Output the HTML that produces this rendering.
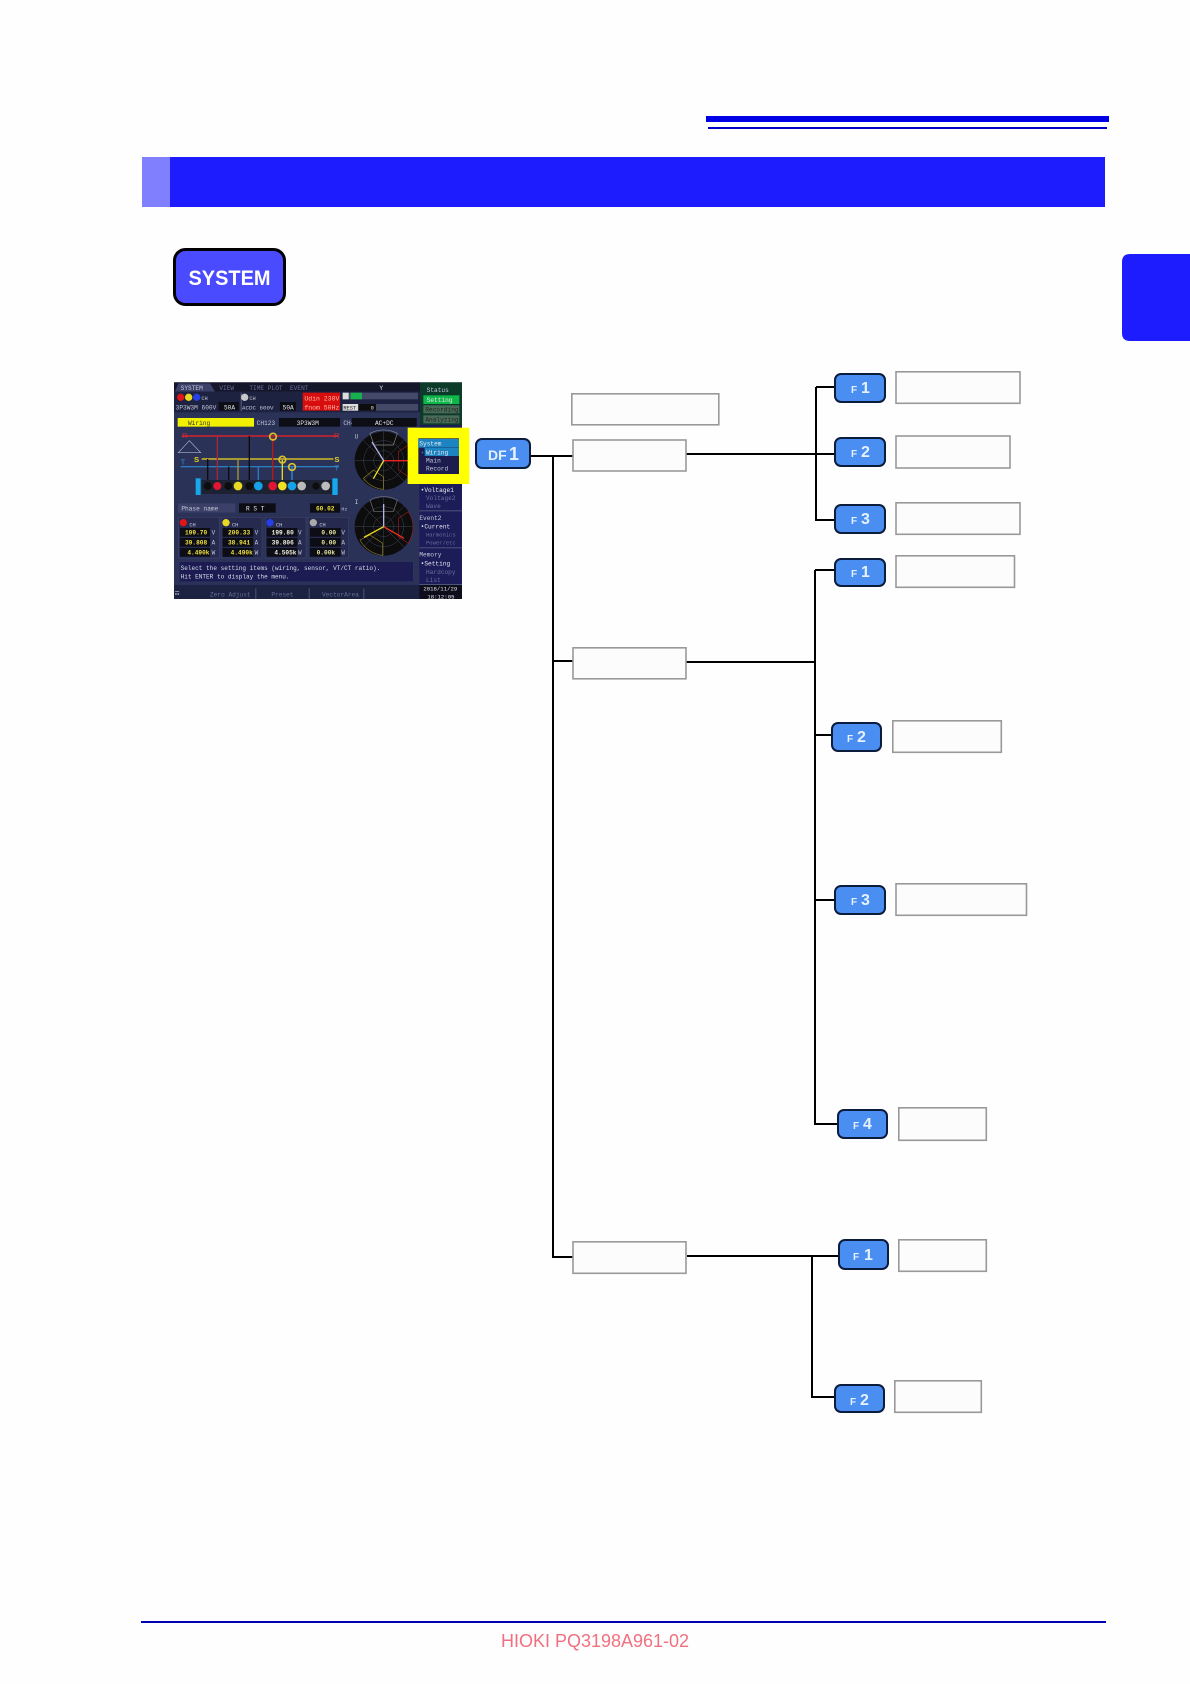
<!DOCTYPE html>
<html><head><meta charset="utf-8"><title>System</title>
<style>html,body{margin:0;padding:0;background:#fefefe}svg{display:block}
.b{fill:#4a8ef2;stroke:#0c1c3c;stroke-width:2}
.l{fill:#fcfcfc;stroke:#999;stroke-width:1.6}
.c{stroke:#000;stroke-width:2;fill:none}
.f{font:bold 10px "Liberation Sans",sans-serif;fill:#e6f1ff}
.n{font:bold 16px "Liberation Sans",sans-serif;fill:#e6f1ff}
.m{font-family:"Liberation Mono",monospace;fill:#c4c8d8}
.d{fill:#6a6e9a}.w{fill:#e8e8ee}.y{fill:#f0e040;font-weight:bold}
</style></head><body>
<svg width="1190" height="1684" viewBox="0 0 1190 1684" xmlns="http://www.w3.org/2000/svg">
<defs><filter id="bl" x="0" y="0" width="100%" height="100%"><feGaussianBlur stdDeviation="1.1"/></filter></defs>
<rect width="1190" height="1684" fill="#fefefe"/>
<rect x="706" y="116" width="403" height="6" fill="#0000e6"/>
<rect x="708" y="127" width="399" height="2" fill="#0000c8"/>
<rect x="142" y="157" width="28" height="50" fill="#8080ff"/>
<rect x="170" y="157" width="935" height="50" fill="#1c1cff"/>
<path d="M1190 254H1130Q1122 254 1122 262V333Q1122 341 1130 341H1190Z" fill="#1c1cff"/>
<rect x="174.500" y="249.500" width="110" height="55" rx="11" fill="#4a4aff" stroke="#000" stroke-width="3"/>
<text x="229.500" y="285" text-anchor="middle" font-family="Liberation Sans, sans-serif" font-weight="bold" font-size="21" fill="#fff" textLength="82" lengthAdjust="spacingAndGlyphs">SYSTEM</text>

<!-- screen -->
<g transform="translate(160,370) scale(.33333)" font-size="18.500">
<g filter="url(#bl)">
<rect x="42" y="37" width="864" height="650" fill="#2b3058"/>
<rect x="42" y="37" width="738" height="28" fill="#14162c"/>
<path d="M45 65L55 40H150L165 65Z" fill="#3a3f68"/>
<text class="m" x="62" y="60">SYSTEM</text>
<text class="m d" x="178" y="60">VIEW</text><text class="m d" x="268" y="60">TIME PLOT</text><text class="m d" x="390" y="60">EVENT</text>
<text class="m w" x="658" y="60">Y</text>
<!-- channel header -->
<rect x="42" y="65" width="738" height="62" fill="#1d2040"/>
<circle cx="62" cy="82" r="11" fill="#e01818"/><circle cx="86" cy="82" r="11" fill="#e8d820"/><circle cx="110" cy="82" r="11" fill="#2840e8"/>
<text class="m" x="124" y="90" font-size="16">CH</text>
<text class="m" x="47" y="118">3P3W3M 600V</text><rect x="176" y="96" width="60" height="26" fill="#0a0a14"/><text class="m w" x="192" y="118">50A</text>
<rect x="242" y="68" width="3" height="56" fill="#5a6080"/>
<circle cx="254" cy="82" r="11" fill="#c8c8c8"/><text class="m" x="268" y="90" font-size="16">CH</text>
<text class="m" x="246" y="118" font-size="17.500">ACDC 600V</text><rect x="360" y="96" width="48" height="26" fill="#0a0a14"/><text class="m w" x="368" y="118">50A</text>
<rect x="428" y="68" width="112" height="54" fill="#d81010"/>
<text class="m" x="433" y="91" font-size="19.500" style="fill:#ffb8a8">Udin 230V</text><text class="m" x="433" y="118" font-size="19.500" style="fill:#ffb8a8">fnom 50Hz</text>
<rect x="548" y="68" width="226" height="20" fill="#444868"/><rect x="548" y="68" width="18" height="20" fill="#ddd"/><rect x="572" y="68" width="34" height="20" fill="#18b050"/>
<rect x="548" y="102" width="226" height="20" fill="#444868"/><rect x="548" y="102" width="46" height="20" fill="#ddd"/><rect x="596" y="102" width="52" height="20" fill="#111"/>
<text class="m" x="550" y="119" font-size="16" style="fill:#222">REST</text><text class="m w" x="632" y="119" font-size="16">0</text>
<!-- right top -->
<rect x="780" y="37" width="126" height="128" fill="#0e3a2c"/>
<text class="m" x="800" y="66">Status</text>
<rect x="790" y="76" width="108" height="26" fill="#10b848"/><text class="m w" x="800" y="96">Setting</text>
<rect x="790" y="106" width="108" height="24" fill="#4a6a58"/><text class="m" x="796" y="125" style="fill:#20281f">Recording</text>
<rect x="790" y="136" width="108" height="24" fill="#4a6a58"/><text class="m" x="796" y="155" style="fill:#20281f">Analyzing</text>
<!-- right col -->
<rect x="778" y="165" width="128" height="480" fill="#1c1c58"/>
<rect x="778" y="421" width="128" height="3" fill="#50557a"/><rect x="778" y="532" width="128" height="3" fill="#50557a"/><rect x="778" y="642" width="128" height="3" fill="#50557a"/>
<text class="m w" x="782" y="366">&#8226;Voltage1</text><text class="m d" x="798" y="390">Voltage2</text><text class="m d" x="798" y="414">Wave</text>
<text class="m" x="778" y="450">Event2</text><text class="m w" x="782" y="476">&#8226;Current</text><text class="m d" x="798" y="500" font-size="16.500">Harmonics</text><text class="m d" x="798" y="524" font-size="16.500">Power/etc</text>
<text class="m" x="778" y="560">Memory</text><text class="m w" x="782" y="587">&#8226;Setting</text><text class="m d" x="798" y="612">Hardcopy</text><text class="m d" x="798" y="636">List</text>
<!-- row -->
<rect x="53" y="144" width="229" height="26" fill="#f0f000"/><text class="m" x="84" y="165" style="fill:#333">Wiring</text>
<text class="m" x="290" y="165">CH123</text><rect x="357" y="144" width="183" height="26" fill="#0c0c14"/><text class="m w" x="410" y="165">3P3W3M</text>
<text class="m" x="550" y="165">CH4</text><rect x="575" y="144" width="195" height="26" fill="#0c0c14"/><text class="m w" x="645" y="165">AC+DC</text>
<!-- wiring -->
<rect x="65" y="195" width="470" height="6" fill="#a82838"/><rect x="125" y="264" width="395" height="6" fill="#a89a30"/><rect x="62" y="288" width="475" height="4" fill="#2c7ec0"/>
<path d="M88 212L55 248H122Z" fill="none" stroke="#b0b4c8" stroke-width="2"/>
<text x="66" y="204" font-family="Liberation Sans" font-size="23" fill="#d03030">R</text><text x="522" y="204" font-family="Liberation Sans" font-size="23" fill="#d03030">R</text>
<text x="102" y="276" font-family="Liberation Sans" font-size="23" font-weight="bold" fill="#e8d820">S</text><text x="523" y="276" font-family="Liberation Sans" font-size="23" font-weight="bold" fill="#e8d820">S</text>
<text x="62" y="284" font-family="Liberation Sans" font-size="23" fill="#3090d8">T</text><text x="523" y="302" font-family="Liberation Sans" font-size="23" fill="#3090d8">T</text>
<g stroke-width="4" fill="none">
<path d="M172 198V335" stroke="#a82838"/><path d="M234 267V335" stroke="#a89a30"/><path d="M295 290V335" stroke="#2c7ec0"/>
<path d="M338 200V335" stroke="#c01818"/><path d="M367 270V335" stroke="#e8d820"/><path d="M396 292V335" stroke="#2c90d8"/>
<path d="M143 267V335M206 290V335M268 198V335" stroke="#0a0a0a"/>
</g>
<circle cx="339" cy="200" r="10" fill="none" stroke="#d8c030" stroke-width="5"/><circle cx="367" cy="269" r="10" fill="none" stroke="#d8c030" stroke-width="5"/><circle cx="396" cy="291" r="10" fill="none" stroke="#d8c030" stroke-width="5"/>
<rect x="125" y="330" width="390" height="42" fill="#1e2030"/>
<rect x="107" y="325" width="15" height="50" fill="#18a8e8"/><rect x="517" y="325" width="16" height="50" fill="#18a8e8"/>
<circle cx="143" cy="348" r="12" fill="#111"/><circle cx="172" cy="348" r="12" fill="#e01830"/><circle cx="205" cy="348" r="12" fill="#111"/><circle cx="234" cy="348" r="13" fill="#e8d820"/><circle cx="268" cy="348" r="12" fill="#111"/><circle cx="295" cy="348" r="13" fill="#18a0e8"/>
<circle cx="338" cy="348" r="13" fill="#e01830"/><circle cx="367" cy="348" r="13" fill="#f0e020"/><circle cx="396" cy="348" r="13" fill="#18a0e8"/><circle cx="425" cy="348" r="13" fill="#bbb"/><circle cx="468" cy="348" r="11" fill="#111"/><circle cx="497" cy="348" r="13" fill="#bbb"/>
<!-- phase -->
<rect x="54" y="400" width="172" height="28" fill="#3a3f68"/><text class="m" x="64" y="422">Phase name</text>
<rect x="237" y="400" width="110" height="28" fill="#0c0c14"/><text class="m w" x="258" y="422">R S T</text>
<rect x="450" y="400" width="90" height="28" fill="#0c0c14"/><text class="m y" x="468" y="421">60.02</text><text class="m" x="544" y="421" font-size="15">Hz</text>
<!-- cells -->
<g>
<g id="c1"><rect x="56" y="442" width="122" height="122" fill="#262a50" stroke="#50557a"/>
<rect x="60" y="474" width="90" height="26" fill="#0a0a14"/><rect x="60" y="504" width="90" height="26" fill="#0a0a14"/><rect x="60" y="534" width="90" height="26" fill="#0a0a14"/></g>
<circle cx="70" cy="458" r="11" fill="#e01818"/><text class="m" x="88" y="470" font-size="16">CH</text>
<text class="m y" x="75" y="494">199.70</text><text class="m y" x="75" y="524">39.808</text><text class="m y" x="82" y="554">4.490k</text>
<text class="m" x="155" y="494" font-size="18">V</text><text class="m" x="155" y="524" font-size="18">A</text><text class="m" x="155" y="554" font-size="18">W</text>

<rect x="184" y="442" width="122" height="122" fill="#262a50" stroke="#50557a"/><rect x="188" y="474" width="92" height="26" fill="#0a0a14"/><rect x="188" y="504" width="92" height="26" fill="#0a0a14"/><rect x="188" y="534" width="92" height="26" fill="#0a0a14"/>
<circle cx="198" cy="458" r="11" fill="#e8d820"/><text class="m" x="216" y="470" font-size="16">CH</text>
<text class="m y" x="204" y="494">200.33</text><text class="m y" x="204" y="524">38.941</text><text class="m y" x="212" y="554">4.490k</text>
<text class="m" x="284" y="494" font-size="18">V</text><text class="m" x="284" y="524" font-size="18">A</text><text class="m" x="284" y="554" font-size="18">W</text>

<rect x="316" y="442" width="122" height="122" fill="#262a50" stroke="#50557a"/><rect x="320" y="474" width="92" height="26" fill="#0a0a14"/><rect x="320" y="504" width="92" height="26" fill="#0a0a14"/><rect x="320" y="534" width="92" height="26" fill="#0a0a14"/>
<circle cx="330" cy="458" r="11" fill="#2840e8"/><text class="m" x="348" y="470" font-size="16">CH</text>
<text class="m y" x="335" y="494" style="fill:#f0f0e0">199.80</text><text class="m y" x="335" y="524" style="fill:#f0f0e0">39.806</text><text class="m y" x="343" y="554" style="fill:#f0f0e0">4.505k</text>
<text class="m" x="414" y="494" font-size="18">V</text><text class="m" x="414" y="524" font-size="18">A</text><text class="m" x="414" y="554" font-size="18">W</text>

<rect x="444" y="442" width="122" height="122" fill="#262a50" stroke="#50557a"/><rect x="450" y="474" width="92" height="26" fill="#0a0a14"/><rect x="450" y="504" width="92" height="26" fill="#0a0a14"/><rect x="450" y="534" width="92" height="26" fill="#0a0a14"/>
<circle cx="460" cy="458" r="11" fill="#aaa"/><text class="m" x="478" y="470" font-size="16">CH</text>
<text class="m y" x="484" y="494" style="fill:#e8e8a0">0.00</text><text class="m y" x="484" y="524" style="fill:#e8e8a0">0.00</text><text class="m y" x="470" y="554" style="fill:#e8e8a0">0.00k</text>
<text class="m" x="544" y="494" font-size="18">V</text><text class="m" x="544" y="524" font-size="18">A</text><text class="m" x="544" y="554" font-size="18">W</text>
</g>
<!-- msg -->
<rect x="58" y="575" width="702" height="60" fill="#1a1e52" stroke="#3a3f68"/>
<text class="m" x="62" y="600" font-size="18.200" style="fill:#d8dce8">Select the setting items (wiring, sensor, VT/CT ratio).</text>
<text class="m" x="62" y="625" font-size="18.200" style="fill:#d8dce8">Hit ENTER to display the menu.</text>
<!-- bottom -->
<rect x="42" y="645" width="736" height="42" fill="#1c2042"/>
<text class="m w" x="44" y="675" font-size="16">&#9782;</text>
<text class="m d" x="150" y="680">Zero Adjust</text><text class="m d" x="334" y="680">Preset</text><text class="m d" x="486" y="680">VectorArea</text>
<rect x="286" y="655" width="3" height="32" fill="#50557a"/><rect x="446" y="655" width="3" height="32" fill="#50557a"/><rect x="610" y="655" width="3" height="32" fill="#50557a"/>
<rect x="778" y="645" width="128" height="42" fill="#0c0c1c"/>
<text class="m w" x="790" y="662" font-size="17">2018/11/29</text><text class="m w" x="802" y="685" font-size="17">18:12:05</text>
<!-- dials -->
<text class="m" x="584" y="205">U</text><text class="m" x="584" y="402">I</text>
<circle cx="671" cy="272" r="87" fill="#08080c"/><circle cx="671" cy="470" r="87" fill="#08080c"/>
<g fill="none" stroke="#44485c" stroke-width="1.500">
<circle cx="671" cy="272" r="60"/><circle cx="671" cy="272" r="30"/><circle cx="671" cy="470" r="60"/><circle cx="671" cy="470" r="30"/>
<path d="M584 272H758M671 185V359M609 210L733 334M733 210L609 334M584 470H758M671 383V557M609 408L733 532M733 408L609 532"/>
</g>
<g fill="none" stroke-width="2">
<path d="M630 190A87 87 0 0 1 712 190L700 225H642Z" stroke="#888"/><path d="M745 225A87 87 0 0 1 745 320L715 300V245Z" stroke="#902020"/><path d="M610 325A87 87 0 0 0 670 358V320L640 300Z" stroke="#908020"/>
<path d="M630 390A87 87 0 0 1 712 390L700 425H642Z" stroke="#777"/><path d="M745 425A87 87 0 0 1 745 520L715 500V445Z" stroke="#902020"/><path d="M600 510A87 87 0 0 0 668 556V520L630 495Z" stroke="#908020"/>
</g>
<g stroke-width="4" fill="none">
<path d="M671 272H746" stroke="#f02020"/><path d="M671 272L640 326" stroke="#f0e020"/><path d="M671 272L636 216" stroke="#b0b4e8"/>
<path d="M671 470L732 505" stroke="#f03020"/><path d="M671 470L612 502" stroke="#f0e020"/><path d="M671 470V402" stroke="#b0b4e8"/>
</g>
<!-- yellow menu -->
<rect x="743" y="173" width="185" height="169" fill="#ffff00"/>
<rect x="775" y="205" width="122" height="107" fill="#1c1c50"/>
<rect x="775" y="207" width="122" height="26" fill="#1e84c0"/><text class="m w" x="778" y="227">System</text>
<rect x="794" y="234" width="103" height="24" fill="#1e84c0"/><text class="m w" x="798" y="254">Wiring</text><text class="m" x="783" y="252" font-size="14" style="fill:#30a0e0">&#9662;</text>
<text class="m" x="798" y="278">Main</text><text class="m" x="798" y="302">Record</text>
</g>
</g>

<!-- connectors -->
<g class="c">
<path d="M531 456H573M553 456V1257H573M553 661H573"/>
<path d="M686 454H834M816 387H834M816 387V520H834"/>
<path d="M686 662H815M815 570V1124H838M815 570H834M815 735H831M815 900H834"/>
<path d="M687 1256H838M812 1256V1397H834"/>
</g>

<!-- label boxes -->
<rect class="l" x="571.800" y="393.800" width="147" height="31"/>
<rect class="l" x="573" y="440" width="113" height="31"/>
<rect class="l" x="573" y="647.800" width="113" height="31"/>
<rect class="l" x="573" y="1241.800" width="113" height="31.500"/>
<rect class="l" x="896" y="371.800" width="124" height="31.500"/>
<rect class="l" x="896" y="436" width="114" height="32"/>
<rect class="l" x="896" y="502.800" width="124" height="31.500"/>
<rect class="l" x="896" y="555.800" width="118.500" height="31.500"/>
<rect class="l" x="892.800" y="720.800" width="108.500" height="31.500"/>
<rect class="l" x="896" y="883.800" width="130.500" height="31.500"/>
<rect class="l" x="898.800" y="1107.800" width="87.500" height="32.500"/>
<rect class="l" x="898.800" y="1239.800" width="87.500" height="31.500"/>
<rect class="l" x="894.800" y="1380.800" width="86.500" height="31.500"/>

<!-- buttons -->
<rect class="b" x="476" y="439" width="54" height="29" rx="6"/>
<text x="488" y="460" font-family="Liberation Sans, sans-serif" font-weight="bold" font-size="14" fill="#e6f1ff">DF</text><text x="509" y="460" font-family="Liberation Sans, sans-serif" font-weight="bold" font-size="18" fill="#e6f1ff">1</text>

<rect class="b" x="835" y="374" width="50" height="28" rx="6"/><text class="f" x="851" y="393">F</text><text class="n" x="861" y="393">1</text>
<rect class="b" x="835" y="438" width="50" height="28" rx="6"/><text class="f" x="851" y="457">F</text><text class="n" x="861" y="457">2</text>
<rect class="b" x="835" y="505" width="50" height="28" rx="6"/><text class="f" x="851" y="524">F</text><text class="n" x="861" y="524">3</text>
<rect class="b" x="835" y="559" width="50" height="27" rx="6"/><text class="f" x="851" y="577">F</text><text class="n" x="861" y="577">1</text>
<rect class="b" x="832" y="723" width="49" height="28" rx="6"/><text class="f" x="847" y="742">F</text><text class="n" x="857" y="742">2</text>
<rect class="b" x="835" y="886" width="50" height="28" rx="6"/><text class="f" x="851" y="905">F</text><text class="n" x="861" y="905">3</text>
<rect class="b" x="838" y="1110" width="49" height="28" rx="6"/><text class="f" x="853" y="1129">F</text><text class="n" x="863" y="1129">4</text>
<rect class="b" x="839" y="1240" width="49" height="29" rx="6"/><text class="f" x="853" y="1260">F</text><text class="n" x="864" y="1260">1</text>
<rect class="b" x="835" y="1385" width="49" height="27" rx="6"/><text class="f" x="850" y="1405">F</text><text class="n" x="860" y="1405">2</text>

<!-- footer -->
<rect x="141" y="1621" width="965" height="2" fill="#0000b4"/>
<text x="501" y="1647" font-family="Liberation Sans, sans-serif" font-size="18" fill="#f07080" textLength="188" lengthAdjust="spacingAndGlyphs">HIOKI PQ3198A961-02</text>
</svg>
</body></html>
